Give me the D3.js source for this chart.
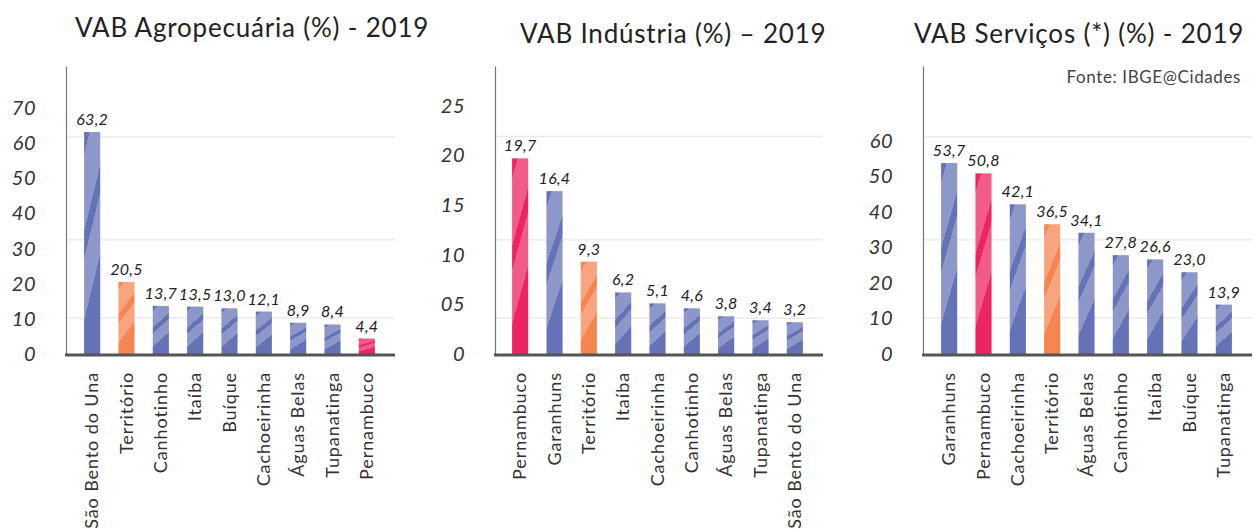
<!DOCTYPE html>
<html lang="pt">
<head>
<meta charset="utf-8">
<title>VAB 2019</title>
<script src="https://d3js.org/d3.v7.min.js"></script>
<style>
  body { margin: 0; background: #fff; }
  svg { display: block; font-family: Lato, "Open Sans", sans-serif; }
  .tick text { font-style: italic; font-size: 20px; fill: #333; letter-spacing: 0.5px; }
  .val { font-style: italic; font-size: 16px; fill: #222; text-anchor: middle; letter-spacing: 0.3px; }
  .cat { font-size: 18px; fill: #333; letter-spacing: 0.9px; }
  .title { font-size: 26px; fill: #222; letter-spacing: 0.8px; }
  .fonte { font-size: 17px; fill: #444; letter-spacing: 0.6px; }
</style>
</head>
<body>
<div id="chart"></div>
<script>
// VAB Agropecuária
var agroCategories = ["São Bento do Una", "Território", "Canhotinho", "Itaíba", "Buíque", "Cachoeirinha", "Águas Belas", "Tupanatinga", "Pernambuco"];
var agroValues = [63.2, 20.5, 13.7, 13.5, 13.0, 12.1, 8.9, 8.4, 4.4];
var agroTicks = [0, 10, 20, 30, 40, 50, 60, 70];
var agroTickLabels = ["0", "10", "20", "30", "40", "50", "60", "70"];

// VAB Indústria
var indCategories = ["Pernambuco", "Garanhuns", "Território", "Itaíba", "Cachoeirinha", "Canhotinho", "Águas Belas", "Tupanatinga", "São Bento do Una"];
var indValues = [19.7, 16.4, 9.3, 6.2, 5.1, 4.6, 3.8, 3.4, 3.2];
var indTicks = [0, 5, 10, 15, 20, 25];
var indTickLabels = ["0", "05", "10", "15", "20", "25"];

// VAB Serviços
var servCategories = ["Garanhuns", "Pernambuco", "Cachoeirinha", "Território", "Águas Belas", "Canhotinho", "Itaíba", "Buíque", "Tupanatinga"];
var servValues = [53.7, 50.8, 42.1, 36.5, 34.1, 27.8, 26.6, 23.0, 13.9];
var servTicks = [0, 10, 20, 30, 40, 50, 60];
var servTickLabels = ["0", "10", "20", "30", "40", "50", "60"];

var width = 1255, height = 530;
var plotBase = 354, plotTop = 66;

var svg = d3.select("#chart").append("svg")
  .attr("width", width)
  .attr("height", height);

// two tone striped fills, stretched with each bar
var palettes = {
  blue:   { dark: "#6672b6", light: "#8e97c9" },
  orange: { dark: "#f58652", light: "#f7a47f" },
  pink:   { dark: "#ec2561", light: "#f25b88" }
};
var bands = [[0, 0.077, "dark"], [0.077, 0.344, "light"], [0.344, 0.436, "dark"], [0.436, 0.65, "light"], [0.65, 1, "dark"]];
var defs = svg.append("defs");
Object.keys(palettes).forEach(function(k) {
  var g = defs.append("linearGradient")
    .attr("id", "fill-" + k)
    .attr("x1", 0).attr("y1", 0)
    .attr("x2", 0.36).attr("y2", 1.2);
  bands.forEach(function(b) {
    g.append("stop").attr("offset", b[0]).attr("stop-color", palettes[k][b[2]]);
    g.append("stop").attr("offset", b[1]).attr("stop-color", palettes[k][b[2]]);
  });
});

function fillFor(name) {
  if (name == "Território") return "url(#fill-orange)";
  if (name == "Pernambuco") return "url(#fill-pink)";
  return "url(#fill-blue)";
}

function drawChart(o) {
  var x = d3.scaleBand()
    .domain(o.categories)
    .range(o.bandRange)
    .paddingInner(0.53)
    .paddingOuter(0.265);

  var y = d3.scaleLinear()
    .domain([0, o.yMax])
    .range([plotBase, plotTop]);

  var g = svg.append("g");

  // grid
  g.selectAll(".grid")
    .data(o.grid)
    .enter().append("line")
    .attr("x1", o.axisX).attr("x2", o.endX)
    .attr("y1", function(d) { return y(d); })
    .attr("y2", function(d) { return y(d); })
    .attr("stroke", "#ececec")
    .attr("stroke-width", 1.5);

  // y axis
  var axis = g.append("g")
    .attr("transform", "translate(" + o.axisX + ",0)")
    .call(d3.axisLeft(y)
      .tickValues(o.ticks)
      .tickFormat(function(d, i) { return o.tickLabels[i]; })
      .tickSize(0)
      .tickPadding(30));
  axis.select(".domain").attr("stroke", "#777").attr("stroke-width", 1.2);
  axis.attr("font-family", null).attr("font-size", null);

  // bars
  g.selectAll(".bar")
    .data(o.values)
    .enter().append("rect")
    .attr("x", function(d, i) { return x(o.categories[i]); })
    .attr("width", x.bandwidth())
    .attr("y", function(d) { return y(d); })
    .attr("height", function(d) { return y(0) - y(d); })
    .attr("fill", function(d, i) { return fillFor(o.categories[i]); });

  // value labels
  g.selectAll(".val")
    .data(o.values)
    .enter().append("text")
    .attr("class", "val")
    .attr("x", function(d, i) { return x(o.categories[i]) + x.bandwidth() / 2; })
    .attr("y", function(d) { return y(d) - 7; })
    .text(function(d) { return d.toFixed(1).replace(".", ","); });

  // baseline
  g.append("line")
    .attr("x1", o.axisX - 1).attr("x2", o.endX)
    .attr("y1", plotBase + 1).attr("y2", plotBase + 1)
    .attr("stroke", "#555")
    .attr("stroke-width", 3);

  // category labels
  g.selectAll(".cat")
    .data(o.categories)
    .enter().append("text")
    .attr("class", "cat")
    .attr("text-anchor", "end")
    .attr("dy", "0.35em")
    .attr("transform", function(d) {
      return "translate(" + (x(d) + x.bandwidth() / 2) + "," + (plotBase + 18) + ") rotate(-90)";
    })
    .text(function(d) { return d; });

  g.append("text")
    .attr("class", "title")
    .attr("x", o.titleX)
    .attr("y", o.titleY)
    .text(o.title);
}

drawChart({
  title: "VAB Agropecuária (%) - 2019", titleX: 75, titleY: 37,
  categories: agroCategories, values: agroValues,
  ticks: agroTicks, tickLabels: agroTickLabels,
  grid: [10.3, 32.5, 61.8], yMax: 82,
  axisX: 66, endX: 395, bandRange: [75, 384]
});

drawChart({
  title: "VAB Indústria (%) – 2019", titleX: 520, titleY: 43,
  categories: indCategories, values: indValues,
  ticks: indTicks, tickLabels: indTickLabels,
  grid: [3.6, 11.5, 21.9], yMax: 29,
  axisX: 495, endX: 823, bandRange: [503, 812]
});

drawChart({
  title: "VAB Serviços (*) (%) - 2019", titleX: 914, titleY: 43,
  categories: servCategories, values: servValues,
  ticks: servTicks, tickLabels: servTickLabels,
  grid: [10.1, 32.1, 61.1], yMax: 81,
  axisX: 923, endX: 1252, bandRange: [932, 1241]
});

svg.append("text")
  .attr("class", "fonte")
  .attr("x", 1241)
  .attr("y", 83)
  .attr("text-anchor", "end")
  .text("Fonte: IBGE@Cidades");
</script>
</body>
</html>
